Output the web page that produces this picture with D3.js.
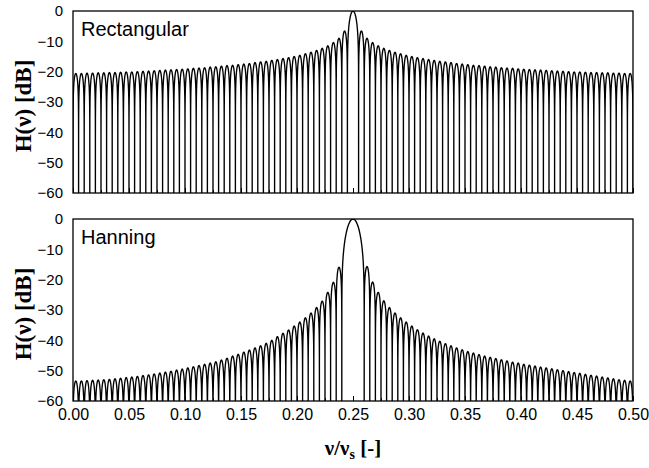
<!DOCTYPE html>
<html>
<head>
<meta charset="utf-8">
<script src="https://cdn.jsdelivr.net/npm/d3@7/dist/d3.min.js"></script>
<style>
  body { margin: 0; background: #fff; }
  svg { display: block; }
  .tick text { font-family: "Liberation Sans", Arial, sans-serif; fill: #000; }
</style>
</head>
<body>
<svg id="chart" width="649" height="468"></svg>
<script>
// spectral line position and lobe width (1/N, N = 200 samples)
var toneFreq = 0.25;
var binWidth = 0.005;

// sidelobe peak levels [dB], listed outwards from the main lobe
var rectSidelobes = [
  -6.6, -9.0, -10.4, -11.5, -12.3, -13.0, -13.6, -14.1, -14.6, -15.0,
  -15.4, -15.7, -16.0, -16.3, -16.6, -16.8, -17.0, -17.3, -17.5, -17.7,
  -17.9, -18.0, -18.2, -18.4, -18.5, -18.7, -18.8, -18.9, -19.1, -19.2,
  -19.3, -19.4, -19.5, -19.6, -19.7, -19.8, -19.9, -20.0, -20.1, -20.1,
  -20.2, -20.3, -20.3, -20.4, -20.4, -20.5, -20.5, -20.6, -20.6
];
var hannLeft = [
  -15.9, -20.9, -24.2, -27.1, -29.2, -31.0, -32.6, -34.0, -35.3, -36.6,
  -37.7, -38.8, -40.0, -41.0, -41.8, -42.5, -43.2, -43.9, -44.6, -45.2,
  -45.9, -46.5, -47.1, -47.5, -47.9, -48.3, -48.7, -49.1, -49.5, -49.8,
  -50.2, -50.5, -50.8, -51.1, -51.4, -51.6, -51.9, -52.1, -52.3, -52.5,
  -52.7, -52.9, -53.0, -53.1, -53.2, -53.3, -53.4, -53.4
];
var hannRight = [
  -15.7, -20.8, -24.2, -27.0, -29.2, -31.0, -32.6, -34.0, -35.3, -36.5,
  -37.6, -38.6, -39.5, -40.3, -41.1, -41.8, -42.5, -43.1, -43.7, -44.2,
  -44.7, -45.2, -45.6, -46.0, -46.4, -46.8, -47.2, -47.5, -47.9, -48.2,
  -48.5, -48.8, -49.1, -49.4, -49.7, -50.0, -50.3, -50.6, -50.9, -51.2,
  -51.5, -51.8, -52.1, -52.4, -52.7, -53.0, -53.2, -53.4
];
var mainLobePeak = 0;

var xMajorTicks = [0, 0.05, 0.10, 0.15, 0.20, 0.25, 0.30, 0.35, 0.40, 0.45, 0.50];
var xMinorTicks = [0.025, 0.075, 0.125, 0.175, 0.225, 0.275, 0.325, 0.375, 0.425, 0.475];
var yTicks = [0, -10, -20, -30, -40, -50, -60];

// lobe profiles, t runs 0..1 across one lobe
function sideProfile(t) { return Math.abs(Math.sin(Math.PI * t)); }
function sinc(u) { return u === 0 ? 1 : Math.sin(Math.PI * u) / (Math.PI * u); }
function rectMain(t) { return Math.abs(sinc(2 * t - 1)); }
function hannMain(t) {
  var u = 4 * t - 2;
  if (Math.abs(Math.abs(u) - 1) < 1e-9) return 0.5;
  return Math.abs(sinc(u) / (1 - u * u));
}

var panels = [
  { name: "Rectangular", top: 11, mainHalf: 1, main: rectMain, left: rectSidelobes, right: rectSidelobes, labels: false },
  { name: "Hanning", top: 219, mainHalf: 2, main: hannMain, left: hannLeft, right: hannRight, labels: true }
];

var margin = { left: 73, right: 16 };
var width = 649, panelH = 182;

var svg = d3.select("#chart");
var x = d3.scaleLinear().domain([0, 0.5]).range([margin.left, width - margin.right]);

// sample positions crowd towards the lobe edges where the dB curve is steep
var ts = d3.range(0, 33).map(function (i) { return 0.5 - 0.5 * Math.cos(Math.PI * i / 32); });

function lobePoints(f0, f1, peak, profile) {
  return ts.map(function (t) {
    var a = profile(t);
    var db = a > 1e-7 ? peak + 10 * Math.log10(a) : -80;
    return [f0 + t * (f1 - f0), Math.max(db, -80)];
  });
}

panels.forEach(function (p, pi) {
  var y = d3.scaleLinear().domain([-60, 0]).range([p.top + panelH, p.top]);
  var g = svg.append("g");

  // assemble one continuous trace from 0 to 0.5
  var pts = [];
  for (var k = p.left.length - 1; k >= 0; k--) {
    var a0 = toneFreq - (p.mainHalf + k + 1) * binWidth;
    pts = pts.concat(lobePoints(a0, a0 + binWidth, p.left[k], sideProfile));
  }
  pts = pts.concat(lobePoints(toneFreq - p.mainHalf * binWidth, toneFreq + p.mainHalf * binWidth, mainLobePeak, p.main));
  for (var j = 0; j < p.right.length; j++) {
    var b0 = toneFreq + (p.mainHalf + j) * binWidth;
    pts = pts.concat(lobePoints(b0, b0 + binWidth, p.right[j], sideProfile));
  }

  var clipId = "clip" + pi;
  svg.append("defs").append("clipPath").attr("id", clipId)
    .append("rect")
    .attr("x", x(0)).attr("y", y(0))
    .attr("width", x(0.5) - x(0)).attr("height", y(-60) - y(0));

  var line = d3.line()
    .x(function (d) { return x(d[0]); })
    .y(function (d) { return y(d[1]); });

  g.append("path")
    .attr("clip-path", "url(#" + clipId + ")")
    .attr("d", line(pts))
    .attr("fill", "none")
    .attr("stroke", "#000")
    .attr("stroke-width", 1.35);

  // ticks point into the plot
  g.append("g")
    .attr("transform", "translate(0," + y(-60) + ")")
    .call(d3.axisBottom(x).tickValues(xMinorTicks).tickSize(-3).tickFormat(""))
    .call(function (s) { s.select(".domain").remove(); s.selectAll("line").attr("stroke", "#000"); });

  g.append("g")
    .attr("transform", "translate(0," + y(-60) + ")")
    .call(d3.axisBottom(x).tickValues(xMajorTicks).tickSize(-5).tickPadding(10)
      .tickFormat(p.labels ? d3.format(".2f") : ""))
    .call(function (s) {
      s.select(".domain").remove();
      s.selectAll("line").attr("stroke", "#000");
      s.selectAll("text").attr("font-size", 16).attr("dy", "0.71em").attr("y", 8);
    });

  g.append("g")
    .attr("transform", "translate(" + x(0) + ",0)")
    .call(d3.axisLeft(y).tickValues(yTicks).tickSize(0).tickPadding(10))
    .call(function (s) {
      s.select(".domain").remove();
      s.selectAll("text").attr("font-size", 15);
    });

  // frame
  g.append("rect")
    .attr("x", x(0)).attr("y", y(0))
    .attr("width", x(0.5) - x(0)).attr("height", y(-60) - y(0))
    .attr("fill", "none").attr("stroke", "#000").attr("stroke-width", 1.3);

  g.append("text")
    .attr("x", x(0) + 8).attr("y", y(0) + 25)
    .attr("font-family", "Liberation Sans, Arial, sans-serif")
    .attr("font-size", 20)
    .text(p.name);

  g.append("text")
    .attr("transform", "translate(23," + (p.top + panelH / 2 + 4) + ") rotate(-90)")
    .attr("text-anchor", "middle")
    .attr("dominant-baseline", "central")
    .attr("font-family", "Liberation Serif, Times New Roman, serif")
    .attr("font-weight", "bold")
    .attr("font-size", 23)
    .text("H(ν) [dB]");
});

var xTitle = svg.append("text")
  .attr("x", x(0.25)).attr("y", 455)
  .attr("text-anchor", "middle")
  .attr("font-family", "Liberation Serif, Times New Roman, serif")
  .attr("font-weight", "bold")
  .attr("font-size", 21);
xTitle.append("tspan").text("ν/ν");
xTitle.append("tspan").attr("font-size", 14).attr("dy", 4).text("s");
xTitle.append("tspan").attr("dy", -4).text(" [-]");
</script>
</body>
</html>
